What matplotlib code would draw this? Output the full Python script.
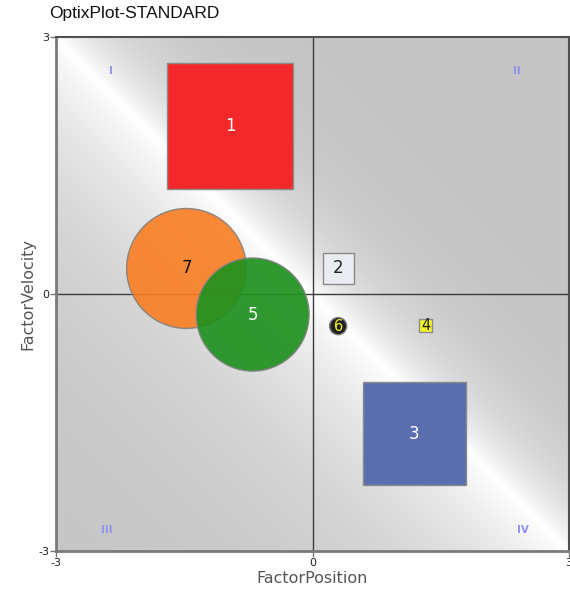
import numpy as np
import matplotlib
matplotlib.use("Agg")
import matplotlib.pyplot as plt
from matplotlib.patches import Rectangle, Circle

# ---- data ----
square_labels = ["1", "2", "3", "4"]
square_x0 = [-1.70, 0.12, 0.59, 1.25]
square_y0 = [1.23, 0.12, -2.23, -0.44]
square_size = [1.47, 0.36, 1.20, 0.15]
square_fill = ["#f3282b", "#e9ecf1", "#5a6daf", "#f5f52a"]
square_text = ["white", "#222222", "white", "#222222"]

circle_labels = ["7", "5", "6"]
circle_x = [-1.474, -0.70, 0.30]
circle_y = [0.298, -0.24, -0.375]
circle_r = [0.70, 0.66, 0.10]
circle_fill = ["#f97d22", "#1f911f", "#222222"]
circle_alpha = [0.9, 0.92, 1.0]
circle_text = ["#111111", "white", "#f0f020"]

quad_labels = ["I", "II", "III", "IV"]
quad_x = [-2.36, 2.39, -2.40, 2.46]
quad_y = [2.60, 2.60, -2.75, -2.75]

ticks = [-3, 0, 3]

fig = plt.figure(figsize=(5.70, 6.04), dpi=100)
ax = fig.add_axes([56/570, 53/604, 513/570, 514/604])
ax.set_xlim(-3, 3)
ax.set_ylim(-3, 3)

# background gradient (white along anti-diagonal, asymmetric falloff)
gx, gy = np.meshgrid(np.linspace(-3, 3, 400), np.linspace(-3, 3, 400))
s = gx + gy
t = np.where(s > 0, np.exp(-s / 0.7), np.exp(s / 1.8))
v = (196 + 59 * t) / 255.0
img = np.dstack([v, v, v])
ax.imshow(img, extent=[-3, 3, -3, 3], origin="lower", aspect="auto", zorder=0,
          interpolation="bilinear")

ax.axhline(0, color="#3c3c3c", lw=1.0, zorder=1)
ax.axvline(0, color="#3c3c3c", lw=1.0, zorder=1)

for lab, qx, qy in zip(quad_labels, quad_x, quad_y):
    ax.text(qx, qy, lab, color="#9090f0", fontsize=7.5, ha="center", va="center",
            family="DejaVu Sans", weight="bold", zorder=2)

for lab, x0, y0, sz, fc, tc in zip(square_labels, square_x0, square_y0, square_size,
                                   square_fill, square_text):
    ax.add_patch(Rectangle((x0, y0), sz, sz, facecolor=fc, edgecolor="#8a8a8a",
                           lw=1.0, zorder=3))
    fs = 10.5 if sz < 0.2 else 12
    ax.text(x0 + sz / 2, y0 + sz / 2, lab, color=tc, fontsize=fs, ha="center",
            va="center", zorder=6)

for lab, cx, cy, r, fc, a, tc in zip(circle_labels, circle_x, circle_y, circle_r,
                                     circle_fill, circle_alpha, circle_text):
    ax.add_patch(Circle((cx, cy), r, facecolor=fc, edgecolor="#808080", lw=1.0,
                        alpha=a, zorder=4))
    fs = 10.5 if r < 0.2 else 12
    ax.text(cx, cy, lab, color=tc, fontsize=fs, ha="center", va="center", zorder=6)

for side in ["top", "right"]:
    ax.spines[side].set_color("#505050")
    ax.spines[side].set_linewidth(1.5)
for side in ["left", "bottom"]:
    ax.spines[side].set_color("#7a7a7a")
    ax.spines[side].set_linewidth(2.0)

ax.set_xticks(ticks)
ax.set_yticks(ticks)
ax.set_xticklabels([str(k) for k in ticks])
ax.set_yticklabels([str(k) for k in ticks])
ax.tick_params(axis="both", length=4, width=1, color="#777777", labelsize=8,
               labelcolor="#222222", pad=1)

ax.set_xlabel("FactorPosition", fontsize=11.5, color="#555555", labelpad=2)
ax.set_ylabel("FactorVelocity", fontsize=11.5, color="#555555", labelpad=2)

fig.text(49/570, 1 - 18/604, "OptixPlot-STANDARD", family="Liberation Sans",
         fontsize=12.5, color="#111111", ha="left", va="baseline")

fig.savefig("out.png", dpi=100)
